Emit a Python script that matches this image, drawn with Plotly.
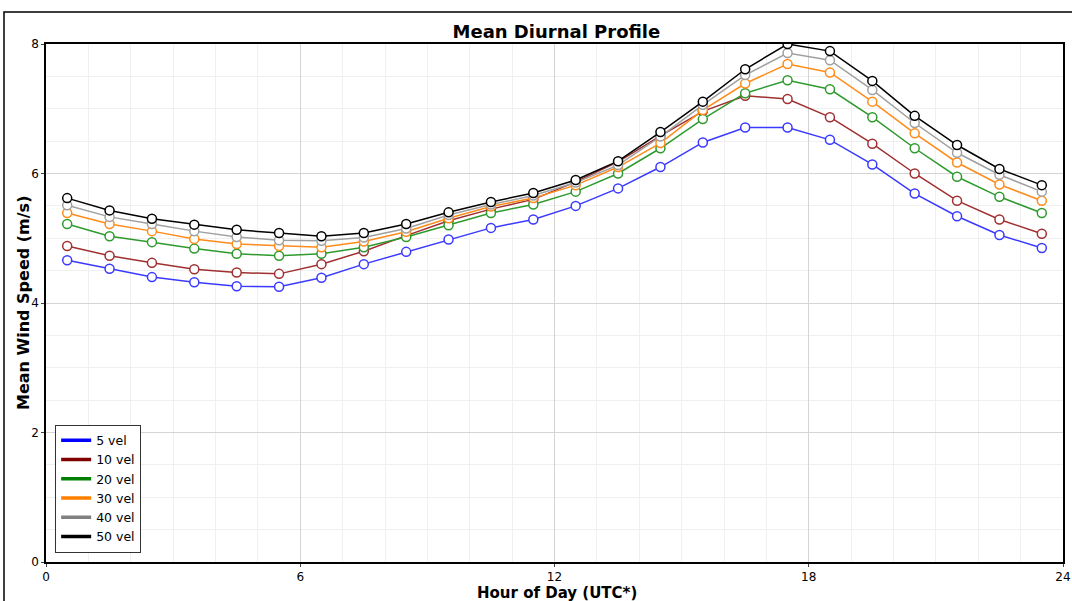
import plotly.graph_objects as go

# === Data ===
hours = [h + 0.5 for h in range(24)]

vel_5 = [4.66, 4.53, 4.40, 4.32, 4.26, 4.25, 4.39, 4.60, 4.79, 4.98, 5.16, 5.29,
         5.50, 5.77, 6.10, 6.48, 6.71, 6.71, 6.52, 6.14, 5.69, 5.34, 5.05, 4.85]
vel_10 = [4.88, 4.73, 4.62, 4.52, 4.47, 4.45, 4.60, 4.80, 5.04, 5.27, 5.45, 5.60,
          5.87, 6.18, 6.58, 6.96, 7.20, 7.15, 6.87, 6.46, 6.00, 5.58, 5.29, 5.07]
vel_20 = [5.22, 5.03, 4.94, 4.84, 4.76, 4.73, 4.76, 4.86, 5.02, 5.20, 5.39, 5.52,
          5.72, 6.00, 6.39, 6.84, 7.24, 7.44, 7.30, 6.87, 6.39, 5.95, 5.64, 5.39]
vel_30 = [5.39, 5.22, 5.11, 4.99, 4.91, 4.88, 4.86, 4.95, 5.10, 5.31, 5.49, 5.62,
          5.82, 6.10, 6.47, 6.98, 7.39, 7.69, 7.56, 7.11, 6.62, 6.17, 5.83, 5.58]
vel_40 = [5.51, 5.33, 5.22, 5.11, 5.02, 4.97, 4.96, 5.01, 5.15, 5.36, 5.52, 5.66,
          5.86, 6.13, 6.57, 7.06, 7.52, 7.86, 7.75, 7.29, 6.78, 6.32, 5.98, 5.72]
vel_50 = [5.62, 5.43, 5.30, 5.21, 5.13, 5.08, 5.03, 5.08, 5.22, 5.40, 5.56, 5.70,
          5.90, 6.19, 6.64, 7.11, 7.61, 8.00, 7.89, 7.43, 6.89, 6.44, 6.07, 5.82]

series = [
    ('5 vel', vel_5, '#3a3aff', '#0000ff'),
    ('10 vel', vel_10, '#a03030', '#800000'),
    ('20 vel', vel_20, '#2e9a2e', '#008000'),
    ('30 vel', vel_30, '#ff8c1a', '#ff8000'),
    ('40 vel', vel_40, '#a0a0a0', '#808080'),
    ('50 vel', vel_50, '#000000', '#000000'),
]

x_ticks = [0, 6, 12, 18, 24]
y_ticks = [0, 2, 4, 6, 8]

FONT = 'Verdana, DejaVu Sans, sans-serif'

fig = go.Figure()

# линии с маркерами (без легенды)
for name, vals, color, _ in series:
    fig.add_trace(go.Scatter(
        x=hours, y=vals, mode='lines+markers', name=name,
        line=dict(color=color, width=1.5),
        marker=dict(symbol='circle', size=9, color='white',
                    line=dict(color=color, width=1.5)),
        showlegend=False,
    ))

# записи легенды - только толстая линия
for name, vals, _, lcolor in series:
    fig.add_trace(go.Scatter(
        x=[None], y=[None], mode='lines', name=name,
        line=dict(color=lcolor, width=3.5),
    ))

fig.update_layout(
    width=1072, height=601,
    paper_bgcolor='white', plot_bgcolor='white',
    font=dict(family=FONT, color='black', size=12),
    title=dict(text='<b>Mean Diurnal Profile</b>', x=0.519, xanchor='center',
               y=1 - 32 / 601, yanchor='middle',
               font=dict(family=FONT, size=18, color='black')),
    margin=dict(l=46, r=9, t=44, b=39),
    showlegend=True,
    legend=dict(x=0.009, y=0.018, xanchor='left', yanchor='bottom',
                bgcolor='white', bordercolor='#333333', borderwidth=1,
                font=dict(family=FONT, size=12.5, color='black'),
                tracegroupgap=0, itemwidth=30),
    shapes=[dict(type='rect', xref='paper', yref='paper',
                 x0=-42 / 1017, x1=1.1, y0=-0.2, y1=1 + 32 / 518,
                 line=dict(color='black', width=1.5), fillcolor='rgba(0,0,0,0)',
                 layer='above')],
    annotations=[
        dict(text='<b>Hour of Day (UTC*)</b>', xref='paper', yref='paper',
             x=0.502, y=-30.5 / 518, xanchor='center', yanchor='middle',
             showarrow=False, font=dict(family=FONT, size=15)),
        dict(text='<b>Mean Wind Speed (m/s)</b>', xref='paper', yref='paper',
             x=-23 / 1017, y=0.5, xanchor='center', yanchor='middle',
             textangle=-90, showarrow=False, font=dict(family=FONT, size=16)),
    ],
)

fig.update_xaxes(
    range=[0, 24], tickvals=x_ticks, ticks='outside', ticklen=3,
    tickfont=dict(family=FONT, size=12), automargin=False,
    showgrid=True, gridcolor='#d4d4d4', gridwidth=1,
    minor=dict(dtick=1, showgrid=True, gridcolor='#f0f0f0', gridwidth=1),
    showline=True, linecolor='black', linewidth=1.5, mirror=True,
    zeroline=False,
)
fig.update_yaxes(
    range=[0, 8], tickvals=y_ticks, ticks='outside', ticklen=3,
    tickfont=dict(family=FONT, size=12), automargin=False,
    showgrid=True, gridcolor='#d4d4d4', gridwidth=1,
    minor=dict(dtick=0.5, showgrid=True, gridcolor='#f0f0f0', gridwidth=1),
    showline=True, linecolor='black', linewidth=1.5, mirror=True,
    zeroline=False,
)

# убрать отступ body, чтобы фигура стояла в (0, 0)
fig.write_html("out.html", config=dict(displayModeBar=False),
               post_script="document.body.style.margin='0';")
